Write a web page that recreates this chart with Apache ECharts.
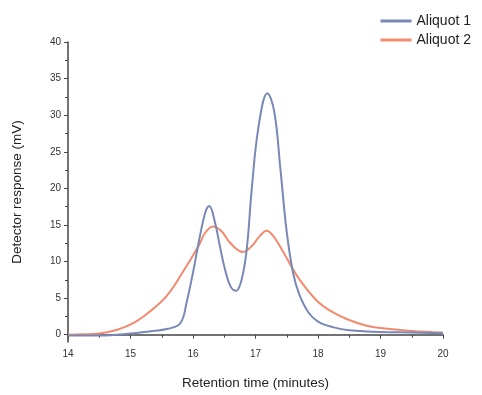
<!DOCTYPE html>
<html><head><meta charset="utf-8">
<script src="https://cdn.jsdelivr.net/npm/echarts@6/dist/echarts.min.js"></script>
<style>html,body{margin:0;padding:0;background:#fff}#c{width:482px;height:395px}</style>
</head><body><div id="c"></div>
<script>
const aliquot1X = [14,14.5,15,15.3,15.6,15.8,15.9,16.0,16.1,16.2,16.26,16.35,16.43,16.51,16.6,16.69,16.78,16.86,16.94,17.05,17.19,17.3,17.4,17.5,17.6,17.7,17.85,18.0,18.25,18.5,19,19.5,20];
const aliquot1Y = [-0.1,-0.1,0.15,0.45,0.8,1.6,4.5,8.5,13,16.8,17.6,15.4,12.1,9,6.6,6,7.6,11.7,19.9,28.5,33,30.5,22.5,14,8.5,5.5,3,1.8,1,0.6,0.35,0.3,0.2];
const aliquot2X = [14,14.25,14.5,14.8,15.05,15.3,15.58,15.84,16.1,16.2,16.32,16.45,16.6,16.8,16.95,17.07,17.18,17.3,17.45,17.7,18.0,18.25,18.5,18.75,19.0,19.5,20];
const aliquot2Y = [0,0.05,0.15,0.7,1.6,3.1,5.3,8.6,12.3,14,14.8,14.2,12.5,11.3,12.2,13.5,14.2,13.3,11.2,7.6,4.5,3,2,1.3,0.9,0.5,0.3];
const xTicks = [14,15,16,17,18,19,20];
const yTicks = [0,5,10,15,20,25,30,35,40];
const yMinorTicks = [2.5,7.5,12.5,17.5,22.5,27.5,32.5,37.5];
const seriesNames = ['Aliquot 1','Aliquot 2'];

const pair = (xs, ys) => xs.map((x,i)=>[x, ys[i]]);
const chart = echarts.init(document.getElementById('c'), null, {renderer:'canvas'});
const axisCol = '#444';
const font = '"Liberation Sans Narrow", "Liberation Sans", Arial, sans-serif';
chart.setOption({
  animation:false,
  textStyle:{fontFamily:font},
  legend:{
    right:6, top:9, orient:'vertical', itemGap:5, itemWidth:31, itemHeight:3,
    icon:'rect',
    textStyle:{fontSize:14, color:'#222', fontFamily:'"Liberation Sans", Arial, sans-serif'},
    data:seriesNames
  },
  grid:{left:68, right:39, top:42, bottom:51},
  xAxis:{
    type:'value', min:14, max:20, interval:1,
    name:'Retention time (minutes)', nameLocation:'middle', nameGap:34,
    nameTextStyle:{fontSize:13.5, color:'#222', fontFamily:'"Liberation Sans", Arial, sans-serif'},
    axisLine:{lineStyle:{color:axisCol, width:1.5}},
    axisTick:{inside:false, length:4, lineStyle:{color:axisCol}},
    minorTick:{show:true, splitNumber:2, length:3, lineStyle:{color:axisCol}},
    axisLabel:{fontSize:10, color:'#333', margin:7, formatter:v=>xTicks.includes(v)?String(v):''},
    splitLine:{show:false}
  },
  yAxis:[{
    type:'value', min:-1, max:40,
    name:'Detector response (mV)', nameLocation:'middle', nameGap:44,
    nameTextStyle:{fontSize:13.5, color:'#222', fontFamily:'"Liberation Sans", Arial, sans-serif'},
    axisLine:{show:true, lineStyle:{color:axisCol, width:1.5}},
    axisTick:{show:true, length:4, customValues:yTicks, lineStyle:{color:axisCol}},
    axisLabel:{fontSize:10, color:'#333', margin:7, customValues:yTicks},
    splitLine:{show:false}
  },{
    type:'value', min:-1, max:40, position:'left',
    axisLine:{show:false},
    axisTick:{show:true, length:3, customValues:yMinorTicks, lineStyle:{color:axisCol}},
    axisLabel:{show:false},
    splitLine:{show:false}
  }],
  series:[
    {name:seriesNames[0], type:'line', smooth:0.4, showSymbol:false, data:pair(aliquot1X, aliquot1Y),
     lineStyle:{color:'#7889b8', width:2}, itemStyle:{color:'#7889b8'}, z:3},
    {name:seriesNames[1], type:'line', smooth:0.4, showSymbol:false, data:pair(aliquot2X, aliquot2Y),
     lineStyle:{color:'#f28a6e', width:2}, itemStyle:{color:'#f28a6e'}, z:2}
  ]
});
</script></body></html>
